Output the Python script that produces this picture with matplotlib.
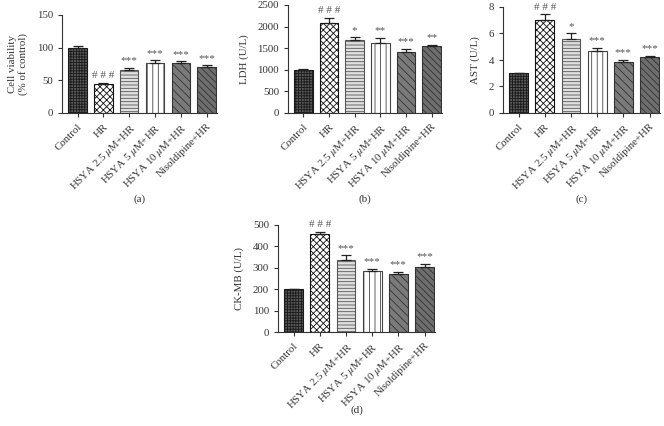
import matplotlib
matplotlib.use("Agg")
import matplotlib.pyplot as plt
import numpy as np

plt.rcParams['font.family'] = ['Liberation Serif', 'DejaVu Serif']
plt.rcParams['mathtext.fontset'] = 'stix'
plt.rcParams['hatch.linewidth'] = 0.6

categories = ["Control", "HR", "HSYA 2.5 $\\mu$M+HR", "HSYA 5 $\\mu$M+HR",
              "HSYA 10 $\\mu$M+HR", "Nisoldipine+HR"]

viability = [100, 45, 66, 77, 77, 71]
viability_err = [2, 1.5, 3.5, 4, 2, 2]
viability_sig = ["", "###", "***", "***", "***", "***"]

ldh = [1000, 2080, 1690, 1610, 1420, 1545]
ldh_err = [20, 130, 60, 120, 60, 40]
ldh_sig = ["", "###", "*", "**", "***", "**"]

ast = [3.0, 7.05, 5.55, 4.7, 3.85, 4.2]
ast_err = [0.05, 0.4, 0.45, 0.2, 0.15, 0.1]
ast_sig = ["", "###", "*", "***", "***", "***"]

ckmb = [200, 458, 338, 283, 270, 303]
ckmb_err = [3, 10, 20, 12, 12, 15]
ckmb_sig = ["", "###", "***", "***", "***", "***"]

TXT = '#333333'
styles = [
    dict(facecolor='#5a5a5a', edgecolor='#1a1a1a', hatch='++++++'),
    dict(facecolor='white', edgecolor='#111111', hatch='xxxxx'),
    dict(facecolor='#e0e0e0', edgecolor='#555555', hatch='-----'),
    dict(facecolor='white', edgecolor='#444444', hatch='|||'),
    dict(facecolor='#7a7a7a', edgecolor='#333333', hatch='\\\\\\\\'),
    dict(facecolor='#6e6e6e', edgecolor='#333333', hatch='\\\\\\\\\\'),
]

W, H = 664, 426
fig = plt.figure(figsize=(W / 100, H / 100), dpi=100)


def px_axes(left, right, top, bottom):
    return fig.add_axes([left / W, 1 - bottom / H, (right - left) / W, (bottom - top) / H])


def panel(ax, vals, errs, sigs, ylim, yticks, ylabel, letter, letter_y):
    x = np.arange(len(vals))
    for i in range(len(vals)):
        ax.bar(x[i], vals[i], width=0.72, linewidth=0.8, **styles[i], zorder=2)
        ax.errorbar(x[i], vals[i], yerr=[[0], [errs[i]]], color='#222222',
                    capsize=3.5, elinewidth=0.9, capthick=0.9, zorder=3)
        if sigs[i]:
            s = ' '.join(sigs[i]) if sigs[i].startswith('#') else sigs[i]
            ax.text(x[i], vals[i] + errs[i] + ylim[1] * 0.025, s,
                    ha='center', va='bottom', fontsize=8, color='#555555')
    ax.set_ylim(*ylim)
    ax.set_xlim(-0.6, 5.4)
    ax.set_yticks(yticks)
    ax.set_xticks(x)
    ax.set_xticklabels(categories, rotation=45, ha='right', rotation_mode='anchor',
                       fontsize=7.8, color=TXT)
    ax.tick_params(axis='y', labelsize=7.8, labelcolor=TXT, length=3, width=0.8, color='#333')
    ax.tick_params(axis='x', length=3, width=0.8, color='#333')
    for s in ['top', 'right']:
        ax.spines[s].set_visible(False)
    for s in ['left', 'bottom']:
        ax.spines[s].set_linewidth(0.8)
        ax.spines[s].set_color('#333')
    ax.set_ylabel(ylabel, fontsize=7.8, color=TXT, labelpad=6)
    ax.text(0.5, letter_y, letter, transform=ax.transAxes, ha='center', va='center',
            fontsize=8, color=TXT)


ax_a = px_axes(62, 217, 15, 113)
panel(ax_a, viability, viability_err, viability_sig, (0, 150), [0, 50, 100, 150],
      "Cell viability\n(% of control)", "(a)", -0.88)

ax_b = px_axes(288, 442, 5, 113)
panel(ax_b, ldh, ldh_err, ldh_sig, (0, 2500), [0, 500, 1000, 1500, 2000, 2500],
      "LDH (U/L)", "(b)", -0.80)

ax_c = px_axes(503, 660, 7, 113)
panel(ax_c, ast, ast_err, ast_sig, (0, 8), [0, 2, 4, 6, 8],
      "AST (U/L)", "(c)", -0.81)

ax_d = px_axes(278, 435, 225, 332)
panel(ax_d, ckmb, ckmb_err, ckmb_sig, (0, 500), [0, 100, 200, 300, 400, 500],
      "CK-MB (U/L)", "(d)", -0.73)

fig.savefig("out.png", dpi=100)
